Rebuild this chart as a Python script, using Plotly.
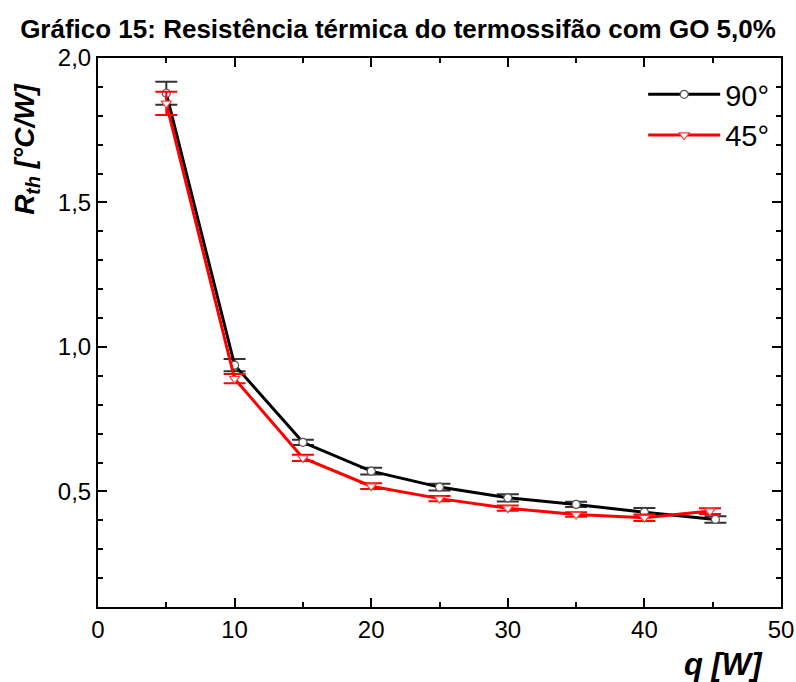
import plotly.graph_objects as go

# Heat input (W) and thermal resistance (°C/W) for the two inclinations
q_90 = [5, 10, 15, 20, 25, 30, 35, 40, 45.2]
r_90 = [1.878, 0.937, 0.670, 0.570, 0.515, 0.478, 0.455, 0.428, 0.403]
e_90 = [0.040, 0.021, 0.009, 0.0115, 0.0115, 0.0125, 0.009, 0.0145, 0.011]

q_45 = [5, 10, 15, 20, 25, 30, 35, 40, 44.8]
r_45 = [1.843, 0.890, 0.616, 0.518, 0.475, 0.442, 0.420, 0.409, 0.432]
e_45 = [0.040, 0.016, 0.011, 0.010, 0.009, 0.009, 0.008, 0.0115, 0.010]

FONT = "Liberation Sans, Arial"

fig = go.Figure()

fig.add_trace(go.Scatter(
    x=q_90, y=r_90, name="90°", mode="lines+markers",
    line=dict(color="black", width=3),
    marker=dict(symbol="circle", size=8, color="white",
                line=dict(color="#555555", width=1.2)),
    error_y=dict(type="data", array=e_90, visible=True,
                 color="#333333", thickness=2, width=11),
))
fig.add_trace(go.Scatter(
    x=q_45, y=r_45, name="45°", mode="lines+markers",
    line=dict(color="#ff0000", width=3),
    marker=dict(symbol="triangle-down", size=9, color="white",
                line=dict(color="#ff4040", width=1.2)),
    error_y=dict(type="data", array=e_45, visible=True,
                 color="#ff0000", thickness=2, width=11),
))

axis_common = dict(
    showline=True, linewidth=2, linecolor="black", mirror="ticks",
    ticks="inside", ticklen=9, tickwidth=2, tickcolor="black",
    showgrid=False, zeroline=False, automargin=False,
    tickfont=dict(family=FONT, size=24, color="black"),
)

fig.update_xaxes(
    range=[0, 50], tick0=0, dtick=10,
    minor=dict(dtick=5, ticks="inside", ticklen=5, tickwidth=2, tickcolor="black"),
    **axis_common,
)
fig.update_yaxes(
    range=[0.1, 2.0], tickvals=[0.5, 1.0, 1.5, 2.0], tickformat=".1f",
    minor=dict(tick0=0, dtick=0.1, ticks="inside", ticklen=5, tickwidth=2, tickcolor="black"),
    **axis_common,
)

fig.update_layout(
    width=796, height=682,
    margin=dict(l=98, r=15, t=58, b=75),
    paper_bgcolor="white", plot_bgcolor="white",
    separators=",.",
    title=dict(
        text="<b>Gráfico 15: Resistência térmica do termossifão com GO 5,0%</b>",
        x=0.5, xanchor="center", y=0.957, yanchor="middle",
        font=dict(family=FONT, size=26, color="black"),
    ),
    legend=dict(
        x=0.99, y=0.98, xanchor="right", yanchor="top",
        bgcolor="rgba(0,0,0,0)", itemwidth=72,
        font=dict(family=FONT, size=29, color="black"),
        tracegroupgap=0,
    ),
    annotations=[
        dict(text="<b><i>q [W]</i></b>", xref="paper", yref="paper",
             x=0.976, y=-0.104, xanchor="right", yanchor="middle", showarrow=False,
             font=dict(family=FONT, size=31, color="black")),
        dict(text="<b><i>R<sub>th</sub> [°C/W]</i></b>", xref="paper", x=-0.105,
             yref="paper", y=0.835, xanchor="center", yanchor="middle",
             textangle=-90, showarrow=False,
             font=dict(family=FONT, size=28, color="black")),
    ],
)

fig.write_html("out.html")
